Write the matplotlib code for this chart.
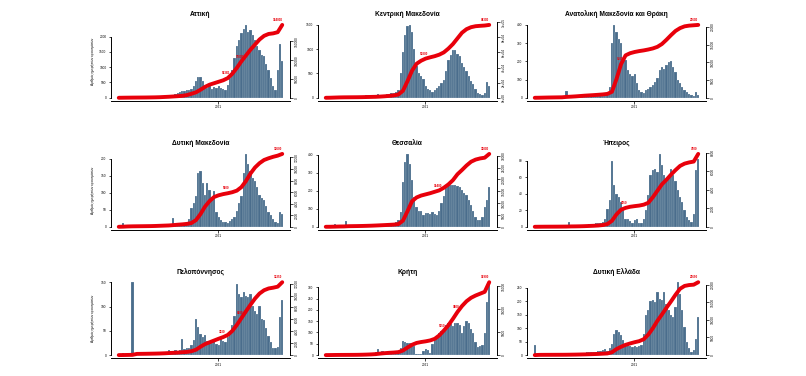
import numpy as np
import matplotlib
matplotlib.use("Agg")
import matplotlib.pyplot as plt

plt.rcParams['font.family'] = ['Liberation Sans', 'DejaVu Sans']

regions = ["Αττική", "Κεντρική Μακεδονία", "Ανατολική Μακεδονία και Θράκη",
           "Δυτική Μακεδονία", "Θεσσαλία", "Ήπειρος",
           "Πελοπόννησος", "Κρήτη", "Δυτική Ελλάδα"]
ylabel_text = "Αριθμός ημερήσιων κρουσμάτων"
year_label = "2021"
year_day = 310  # 1 Jan 2021, counting days from 26 Feb 2020

# daily new cases, one value per week (73 weeks from 26 Feb 2020)
attica_daily = [5, 20, 30, 25, 15, 10, 5, 3, 2, 2, 2, 3, 5, 8, 10, 15, 20, 40, 60, 70, 60, 60, 70,
                90, 100, 120, 150, 200, 220, 230, 240, 260, 300,
                400, 550, 680, 690, 560, 380, 330, 380, 300, 350,
                320, 400, 330, 280, 260, 420, 650, 900, 1300, 1700,
                1900, 2100, 2250, 2380, 2150, 2200, 2050, 1900, 1700, 1550,
                1400, 1350, 1100, 900, 650, 400, 250, 900, 1750, 1200]
km_daily = [2, 10, 15, 10, 8, 5, 3, 2, 2, 2, 3, 5, 8, 10, 15, 20, 30, 40, 50, 60, 50, 45, 60,
            70, 60, 55, 60, 70, 80, 90, 100, 110, 150,
            500, 950, 1300, 1480, 1500, 1350, 1000, 650, 500, 450,
            380, 250, 180, 150, 120, 160, 200, 240, 300, 370,
            550, 780, 880, 980, 990, 900, 850, 720, 640, 560,
            450, 350, 290, 180, 100, 70, 55, 90, 330, 250]
amth_daily = [0, 2, 3, 2, 2, 1, 1, 1, 1, 2, 2, 3, 4,
              8, 35, 6, 8, 10, 10, 12, 15, 18, 12, 12, 14, 15, 15, 18, 20, 22, 25, 25, 28, 60,
              300, 400, 360, 320, 300, 220, 210, 150, 130, 120,
              130, 80, 40, 30, 25, 40, 50, 60, 70, 85,
              110, 150, 170, 160, 180, 195, 200, 170, 140, 100,
              80, 60, 40, 30, 20, 15, 10, 30, 15]
dm_daily = [0, 3, 12, 6, 3, 2, 1, 1, 1, 1, 1, 1, 1, 1, 2, 2, 3, 3, 6, 4, 4, 3, 4, 5,
            25, 8, 8, 10, 10, 12, 15, 22, 55, 70,
            90, 160, 165, 130, 95, 130, 110, 80, 105, 45,
            30, 20, 15, 14, 12, 18, 22, 30, 48, 70,
            90, 160, 215, 185, 165, 145, 135, 118, 95, 85,
            78, 60, 45, 34, 22, 14, 10, 45, 38]
th_daily = [0, 2, 5, 10, 18, 10, 6, 4, 3, 30, 4, 3, 3, 3, 4, 5, 6, 8, 8, 10, 10, 12, 13,
            14, 13, 12, 15, 18, 18, 20, 22, 28, 40,
            80, 250, 360, 405, 350, 260, 165, 110, 90, 85,
            65, 75, 78, 72, 80, 70, 65, 90, 130, 170,
            220, 240, 235, 230, 235, 225, 220, 205, 190, 175,
            150, 120, 90, 55, 40, 38, 55, 110, 150, 220]
ip_daily = [0, 1, 2, 1, 1, 0, 0, 0, 0, 0, 1, 1, 1, 1, 2,
            6, 1, 1, 1, 2, 2, 2, 2, 2, 3,
            3, 3, 4, 4, 5, 6, 10, 22, 32, 80,
            50, 40, 36, 30, 20, 9, 10, 7, 5, 8,
            10, 5, 4, 10, 20, 38, 62, 68, 70, 66,
            88, 75, 62, 57, 60, 70, 62, 55, 45, 36,
            30, 20, 12, 8, 6, 15, 68, 82]
pel_daily = [0, 2, 4, 3, 2, 1, 150, 1, 1, 0, 1, 1, 1, 1, 1, 2, 2, 3, 4, 5, 5, 6, 10,
             6, 7, 10, 8, 10, 34, 12, 14, 15, 20,
             32, 75, 58, 44, 38, 41, 30, 26, 24, 31,
             22, 20, 34, 28, 27, 37, 50, 62, 80, 147,
             126, 119, 130, 122, 119, 126, 102, 90, 85, 102,
             75, 72, 55, 40, 26, 15, 14, 16, 78, 114]
kr_daily = [0, 1, 2, 2, 1, 1, 0, 0, 0, 0, 0, 1, 1, 1, 2, 2, 3, 4, 5, 6, 8, 10, 12,
            26, 15, 18, 14, 8, 6, 5, 6, 8, 10,
            30, 63, 58, 55, 53, 45, 38, 6, 5, 5,
            18, 26, 22, 8, 50, 70, 85, 98, 105, 113,
            135, 143, 138, 128, 140, 143, 135, 98, 130, 150,
            143, 115, 98, 60, 35, 38, 45, 98, 233, 322]
de_daily = [39, 2, 3, 2, 1, 1, 0, 0, 0, 0, 1, 1, 1, 2, 2, 3, 3, 4, 5, 6, 7, 8, 9,
            10, 11, 12, 12, 13, 14, 16, 18, 21, 14,
            25, 40, 80, 92, 85, 74, 55, 42, 37, 33,
            31, 34, 30, 32, 37, 80, 150, 166, 200, 206,
            197, 234, 209, 203, 234, 191, 166, 150, 142, 179,
            271, 228, 166, 105, 49, 25, 12, 18, 60, 140]

# cumulative cases, every second week (weeks 0, 2, ..., 72)
attica_cum = [0, 200, 350, 500, 600, 700, 800, 1000, 1200, 1550, 2130, 2720, 3490, 4270, 5240,
              7180, 10670, 14550, 21340, 29100, 34920, 38800, 42680, 46560, 52380, 64020,
              79540, 97000, 112520, 128040, 141620, 155200, 164900, 169940, 171500, 174600, 194000]
km_cum = [0, 100, 300, 500, 600, 650, 700, 750, 850, 1000, 1150, 1300, 1600, 2000, 2500, 3200,
          4400, 9300, 22000, 35800, 45000, 49000, 51800, 53500, 55000, 57000, 60000, 65000,
          71000, 78500, 86000, 90700, 93300, 94600, 95100, 95500, 96300]
amth_cum = [0, 20, 50, 80, 100, 120, 140, 250, 320, 400, 500, 600, 680, 760, 850, 950, 1100,
            1700, 5300, 9500, 12000, 12600, 12950, 13200, 13400, 13650, 13950, 14400, 15200,
            16400, 17700, 18900, 19700, 20200, 20400, 20500, 20600]
dm_cum = [0, 20, 60, 80, 90, 100, 110, 120, 140, 170, 200, 230, 290, 360, 420, 500, 650, 1150,
          2200, 3500, 4450, 5150, 5450, 5650, 5800, 5980, 6250, 6850, 7900, 9200, 10250, 11000,
          11550, 11850, 12100, 12300, 12600]
th_cum = [0, 10, 60, 120, 150, 250, 280, 310, 350, 400, 460, 540, 630, 720, 820, 930, 1150,
          2600, 6600, 10800, 12400, 13200, 13700, 14200, 14800, 15400, 16500, 17900, 19700,
          22200, 24000, 25900, 27500, 28400, 28900, 29200, 30800]
ip_cum = [0, 5, 10, 12, 14, 16, 20, 25, 40, 45, 55, 70, 90, 110, 140, 190, 300, 650, 1350,
          1850, 2050, 2170, 2240, 2300, 2400, 2600, 3200, 3900, 4600, 5100, 5650, 6150, 6600,
          6850, 6980, 7070, 7900]
pel_cum = [0, 10, 25, 40, 200, 210, 220, 235, 250, 270, 300, 340, 380, 420, 480, 530, 650, 900,
           1400, 1850, 2150, 2450, 2750, 3030, 3380, 4070, 5060, 6200, 7350, 8450, 9500, 10350,
           10900, 11200, 11330, 11500, 12250]
kr_cum = [0, 10, 25, 35, 40, 45, 50, 60, 80, 110, 150, 210, 330, 420, 500, 560, 650, 1000, 1650,
          2250, 2650, 2850, 3000, 3200, 3550, 4300, 5350, 6500, 7900, 9400, 10700, 11750, 12500,
          13000, 13400, 13800, 15900]
de_cum = [0, 60, 70, 75, 80, 85, 90, 100, 120, 140, 170, 200, 240, 280, 330, 400, 470, 800,
          1700, 2350, 2900, 3300, 3650, 3950, 4500, 5800, 7600, 9700, 11500, 13400, 15200, 17100,
          18800, 19600, 19850, 19950, 20650]

daily_all = [attica_daily, km_daily, amth_daily, dm_daily, th_daily, ip_daily,
             pel_daily, kr_daily, de_daily]
cum_all = [attica_cum, km_cum, amth_cum, dm_cum, th_cum, ip_cum, pel_cum, kr_cum, de_cum]

left_ticks = [[0, 500, 1000, 1500, 2000], [0, 500, 1000, 1500], [0, 100, 200, 300, 400],
              [0, 50, 100, 150, 200], [0, 100, 200, 300, 400], [0, 20, 40, 60, 80],
              [0, 50, 100, 150], [0, 50, 100, 150, 200, 250, 300], [0, 50, 100, 150, 200, 250]]
right_ticks = [[0, 50000, 100000, 150000], [0, 20000, 40000, 60000, 80000, 100000],
               [0, 5000, 10000, 15000, 20000], [0, 2000, 4000, 6000, 8000, 10000, 12000],
               [0, 5000, 10000, 15000, 20000, 25000, 30000], [0, 2000, 4000, 6000, 8000],
               [0, 2000, 4000, 6000, 8000, 10000, 12000], [0, 5000, 10000, 15000],
               [0, 5000, 10000, 15000, 20000]]
right_sci = [False, True, False, False, False, False, False, False, False]
# weeks where the cumulative count is written on the curve
mid_label_weeks = [[48, 54], [44], [38], [48], [50], [40], [46, 54], [52, 58], []]

BAR = "#4a6d8c"
RED = "#e8000b"

for d in daily_all:
    assert len(d) == 73
for c in cum_all:
    assert len(c) == 37

fig = plt.figure(figsize=(8.06, 3.76), dpi=100)
FW, FH = 806.0, 376.0
col_left = [111, 318, 527]
row_bottom = [100.7, 229.7, 358.0]
AW, AH = 179.0, 78.7

weeks = np.arange(73)
xbar = weeks * 7 + 3.5
xcum = weeks[::2] * 7 + 3.5
span = 73 * 7

TS = 2.3
for i, name in enumerate(regions):
    r, c = divmod(i, 3)
    ax = fig.add_axes([col_left[c] / FW, (FH - row_bottom[r]) / FH, AW / FW, AH / FH])
    daily = np.array(daily_all[i], dtype=float)
    cum = np.array(cum_all[i], dtype=float)
    ax.bar(xbar, daily, width=7, color=BAR, edgecolor="white", linewidth=0.12, zorder=2)
    ax.set_xlim(-0.04 * span, 1.04 * span)
    M = daily.max()
    ax.set_ylim(-0.04 * M, 1.04 * M)
    ax.set_yticks(left_ticks[i])
    ax.set_yticklabels([str(v) for v in left_ticks[i]])
    ax.set_xticks([year_day])
    ax.set_xticklabels([year_label])
    for s in ["top", "right"]:
        ax.spines[s].set_visible(False)
    ax.spines["left"].set_bounds(0, left_ticks[i][-1])
    for s in ["left", "bottom"]:
        ax.spines[s].set_linewidth(0.7)
    ax.tick_params(axis="both", length=1.8, width=0.5, labelsize=TS, pad=1.5)
    ax.set_title(name, fontsize=4.8, fontweight="bold", pad=4)
    if c == 0:
        ax.set_ylabel(ylabel_text, fontsize=2.3)
        ax.yaxis.set_label_coords(-0.088, 0.5)

    ax2 = ax.twinx()
    ax2.plot(xcum, cum, color=RED, lw=2.8, solid_capstyle="round", solid_joinstyle="round", zorder=3)
    T = cum.max()
    ax2.set_ylim(-0.04 * T, 1.04 * T)
    ax2.set_yticks(right_ticks[i])
    if right_sci[i]:
        labs = [f"{v:.0e}" for v in right_ticks[i]]
    else:
        labs = [str(v) for v in right_ticks[i]]
    ax2.set_yticklabels(labs, rotation=90, va="center")
    for s in ["top", "left", "bottom"]:
        ax2.spines[s].set_visible(False)
    ax2.spines["right"].set_bounds(0, right_ticks[i][-1])
    ax2.spines["right"].set_linewidth(0.7)
    ax2.tick_params(axis="y", length=1.8, width=0.5, labelsize=TS, pad=1.5)

    for w in mid_label_weeks[i]:
        k = w // 2
        ax2.annotate(str(int(cum[k])), (xcum[k], cum[k]), xytext=(-1, 2),
                     textcoords="offset points", ha="center", va="bottom",
                     color=RED, fontsize=2.2, fontweight="bold", zorder=4)
    ax2.annotate(str(int(cum[-1])), (xcum[-1], cum[-1]), xytext=(-3, 2),
                 textcoords="offset points", ha="center", va="bottom",
                 color=RED, fontsize=2.2, fontweight="bold", zorder=4)

fig.savefig("out.png", dpi=100)
